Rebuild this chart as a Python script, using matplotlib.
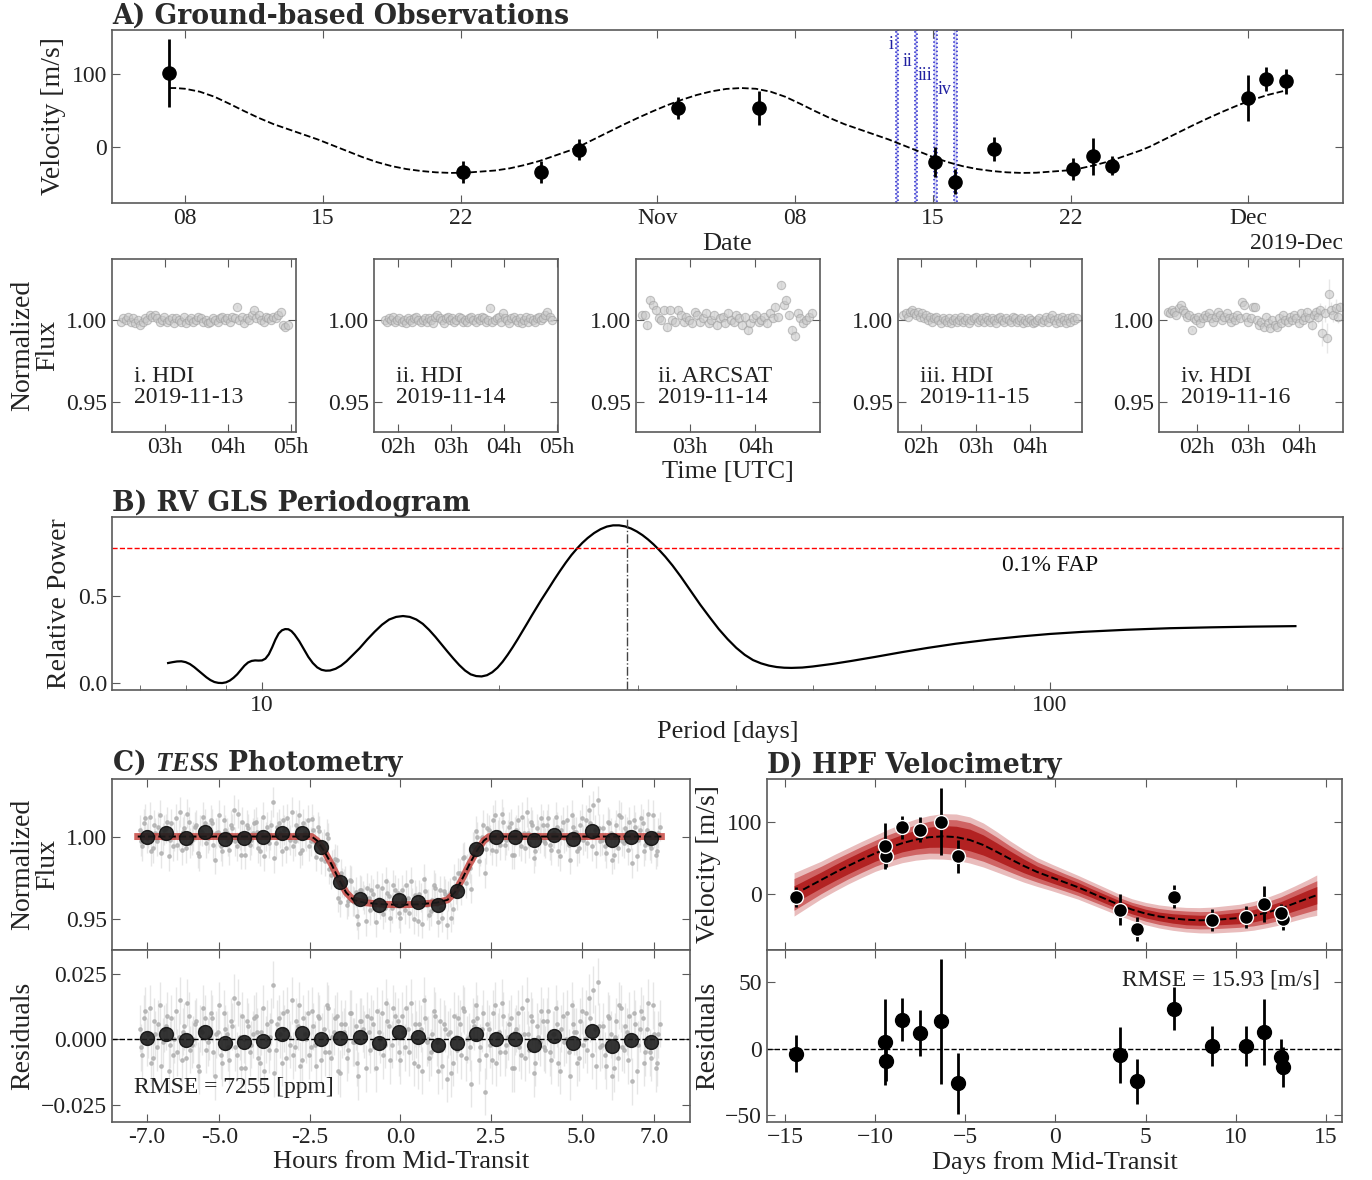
import numpy as np
import pandas as pd
import matplotlib
matplotlib.use("Agg")
import matplotlib.pyplot as plt
import matplotlib.dates as mdates
from matplotlib.ticker import FuncFormatter, NullFormatter

plt.rcParams["font.family"] = ["Liberation Serif", "DejaVu Serif"]
plt.rcParams["mathtext.fontset"] = "custom"
plt.rcParams["mathtext.rm"] = "Liberation Serif"
plt.rcParams["mathtext.it"] = "Liberation Serif:italic:bold"
plt.rcParams["axes.edgecolor"] = "#5a5a5a"
plt.rcParams["axes.linewidth"] = 1.2
plt.rcParams["xtick.direction"] = "in"
plt.rcParams["ytick.direction"] = "in"
plt.rcParams["xtick.top"] = True
plt.rcParams["ytick.right"] = True
plt.rcParams["xtick.major.size"] = 6
plt.rcParams["ytick.major.size"] = 6
plt.rcParams["xtick.minor.size"] = 3.5
plt.rcParams["xtick.color"] = "#5a5a5a"
plt.rcParams["ytick.color"] = "#5a5a5a"
plt.rcParams["xtick.labelcolor"] = "#222222"
plt.rcParams["ytick.labelcolor"] = "#222222"
plt.rcParams["xtick.labelsize"] = 17
plt.rcParams["ytick.labelsize"] = 17
plt.rcParams["axes.labelsize"] = 19
plt.rcParams["axes.labelcolor"] = "#222222"

TITLE = dict(family="DejaVu Serif", weight="bold", size=19.2, color="#2a2a2a")
YLAB = 20
NOTE = 17

# ---------------- A) ground-based RVs ----------------
rv_dates = ["2019-10-07 05:00", "2019-10-22 02:30", "2019-10-26 01:30", "2019-10-28 00:00",
            "2019-11-02 00:30", "2019-11-06 03:30", "2019-11-15 02:30", "2019-11-16 02:30",
            "2019-11-18 02:30", "2019-11-22 02:30", "2019-11-23 02:30", "2019-11-24 02:00",
            "2019-12-01 00:30", "2019-12-01 22:30", "2019-12-02 22:00"]
rv_vel = [101, -35, -34, -4, 53, 53, -21, -48, -3, -31, -13, -26, 67, 93, 90]
rv_err = [47, 15, 15, 14, 15, 23, 21, 17, 16, 15, 25, 13, 32, 16, 17]
rv_phase = [-6.34, 8.67, 12.60, -14.41, -9.40, -5.42, 3.57, 4.55, 6.58, 10.55,
            11.57, 12.53, -9.47, -8.51, -7.49]
rv_resid = [20.5, 1.7, -13.7, -3.7, -9.5, -26.0, -5.0, -24.5, 30.0, 1.7,
            12.5, -6.0, 5.0, 21.7, 11.7]

# best-fit model along the observing season, days after 2019-10-08
ref_date = pd.Timestamp("2019-10-08")
modelA_day = [-0.79, -0.5, 0.0, 0.75, 1.5, 2.25, 3.0, 3.75, 4.5, 5.25, 6.0, 6.75, 7.5, 8.25,
              9.0, 9.75, 10.5, 11.25, 12.0, 12.75, 13.5, 14.25, 15.0, 15.75, 16.5, 17.25,
              18.0, 18.75, 19.5, 20.0, 20.75, 21.5, 22.25, 23.0, 23.75, 24.5, 25.25, 26.0,
              26.75, 27.5, 28.25, 29.0, 29.75, 30.5, 31.25, 32.0, 32.75, 33.5, 34.25, 35.0,
              35.75, 36.5, 37.25, 38.0, 38.75, 39.5, 40.25, 41.0, 41.75, 42.5, 43.25, 44.0,
              44.75, 45.5, 46.25, 47.0, 47.75, 48.5, 49.0, 49.75, 50.5, 51.25, 52.0, 52.75,
              53.5, 54.25, 55.0, 55.75, 55.9]
modelA_vel = [80.5, 80.5, 79.5, 75.5, 68.5, 59, 49, 39.5, 31, 24, 17, 10, 2, -6,
              -14, -21, -26.5, -30.5, -33.2, -35, -35.8, -35.5, -34, -32.5, -29.5, -25,
              -19.5, -12.5, -5.5, 0, 10, 20, 30, 39.5, 48.5, 57, 64.5, 71,
              76, 79.3, 80.5, 79.5, 75.5, 68.5, 59, 49, 39.5, 31, 24, 17,
              10, 2, -6, -14, -21, -26.5, -30.5, -33.2, -35, -35.8, -35.5, -34,
              -32.5, -29.5, -25, -19.5, -12.5, -5.5, 0, 10, 20, 30, 39.5, 48.5,
              57, 64.5, 71, 76, 77]

# transit windows observed from the ground (UT)
win_dates = ["2019-11-13", "2019-11-14", "2019-11-15", "2019-11-16"]
win_start_h = [2.3, 1.75, 1.68, 1.42]
win_end_h = [4.95, 4.9, 4.85, 4.8]
win_labels = ["i", "ii", "iii", "iv"]
win_label_v = [140, 117, 98, 78]

# ---------------- ground-based light curves (ppt from 1.0) ----------------
night_labels = ["i. HDI\n2019-11-13", "ii. HDI\n2019-11-14", "ii. ARCSAT\n2019-11-14",
                "iii. HDI\n2019-11-15", "iv. HDI\n2019-11-16"]
night_start_h = [2.30, 1.75, 2.26, 1.68, 1.42]
night_end_h = [4.95, 4.90, 4.86, 4.85, 4.80]
night1 = [-1, 1, 0, 2, -1, 1, -2, 0, -3, -1,
          1, 0, 3, 2, 3, 1, -1, 0, 2, -1,
          0, 1, -2, 1, 0, -1, 2, -2, 0, 1,
          -1, 0, 2, 1, -1, 0, -2, -1, 1, 0,
          -1, 1, 2, 0, 1, -1, 2, 1, 8, 0,
          2, -2, 1, 0, 3, 6, 1, 3, 0, -1,
          2, 1, 0, 2, 1, 3, 5, -3, -4, -3]
night2 = [0, -1, 1, 0, 2, -1, 0, 1, -1, 0,
          -2, 1, 0, -1, 1, 2, 0, -1, 0, 1,
          -1, 1, 0, -2, 2, 3, 1, 0, -2, 1,
          2, 0, 1, -1, 0, 2, 1, -1, 0, -1,
          1, 2, 0, -1, 1, 0, 2, 1, -1, 0,
          7, -1, 0, 1, 2, -1, 4, 1, 0, -2,
          1, 2, 0, -1, 1, -2, 0, 2, -1, 1,
          0, -1, 1, 2, 0, 1, 3, 5, 2, 0]
night3 = [3, 3, -3, 12, 9, 6, 1, 0, 6, -4,
          6, 0, -1, 6, 3, -1, 2, 0, -2, 5,
          3, -1, 1, 4, -2, 0, 3, -3, 1, 2,
          -2, 4, 0, -1, 3, 1, -3, 2, -6, -2,
          1, 3, -1, 0, 2, -2, 4, 1, 8, 2,
          21, 9, 12, 3, -6, -10, 4, 1, -2, 0,
          2, 4]
night4 = [3, 4, 2, 5, 6, 4, 3, 5, 2, 4,
          1, 3, 0, 2, -1, 1, 2, 0, -2, 1,
          0, -1, 1, -2, 0, 1, -1, 0, 2, -1,
          0, 1, -2, 0, 1, 2, -1, 0, 1, -1,
          2, 0, -1, 1, 0, -2, 1, 2, 0, -1,
          1, 0, -1, 2, 1, -1, 0, 1, -2, 0,
          -1, 1, 0, -2, -1, 0, 1, -1, 0, 2,
          -1, 1, 3, 0, -2, 1, -1, 2, 0, -2,
          1, -1, 2, 0, 1]
night5 = [5, 4, 6, 5, 3, 7, 9, 6, 4, 2,
          3, -6, 1, 0, 2, -2, 1, 3, 2, 4,
          1, -1, 2, 5, 3, 0, 2, 4, 1, -1,
          2, 0, 3, 1, 11, 9, 2, -1, 1, 8,
          8, 0, -3, -1, -4, 2, -2, -5, 0, -3,
          -4, 1, -2, 3, 0, -1, 2, 0, 3, 1,
          -2, 4, 0, 2, 5, 1, -3, 3, 5, 2,
          6, -8, 4, -11, 16, 6, 3, 7, 2, 8]
night_err = [1.0, 1.0, 2.5, 1.0,
             [1.0] * 60 + [1.5, 2, 1.5, 2, 2.5, 2, 3, 2.5, 3, 4,
                           4, 8, 5, 9, 9, 5, 4, 6, 4, 3]]
night_flux = [night1, night2, night3, night4, night5]

# ---------------- B) GLS periodogram ----------------
gls_period = [7.60, 7.70, 7.80, 7.90, 8.00, 8.10, 8.20, 8.30, 8.40, 8.50, 8.60, 8.70, 8.80,
              8.90, 9.00, 9.10, 9.20, 9.30, 9.40, 9.50, 9.60, 9.70, 9.80, 9.90, 10.0, 10.1,
              10.2, 10.3, 10.4, 10.5, 10.6, 10.7, 10.8, 10.9, 11.0, 11.15, 11.3, 11.45, 11.6,
              11.75, 11.9, 12.05, 12.2, 12.4, 12.6, 12.8, 13.0, 13.3, 13.6, 13.9, 14.2, 14.5,
              14.8, 15.1, 15.4, 15.7, 16.0, 16.3, 16.6, 16.9, 17.2, 17.5, 17.8, 18.1, 18.4,
              18.7, 19.0, 19.3, 19.6, 19.9, 20.2, 20.5, 20.8, 21.1, 21.4, 21.7, 22.0, 22.3,
              22.6, 22.9, 23.2, 23.5, 23.9, 24.3, 24.7, 25.1, 25.5, 25.9, 26.4, 26.9, 27.4,
              27.9, 28.4, 28.9, 29.4, 29.9, 30.4, 30.9, 31.4, 31.9, 32.5, 33.2, 34.0, 35.0,
              36.0, 37.0, 38.0, 39.0, 40.0, 41.0, 42.0, 43.0, 44.0, 45.0, 46.0, 47.0, 48.5,
              50.0, 53.0, 56.0, 60.0, 65.0, 70.0, 76.0, 84.0, 92.0, 100.0, 110.0, 125.0,
              142.0, 160.0, 180.0, 205.0]
gls_power = [0.115, 0.120, 0.124, 0.125, 0.120, 0.109, 0.092, 0.072, 0.052, 0.033, 0.017,
             0.006, 0.001, 0.0, 0.004, 0.014, 0.030, 0.050, 0.075, 0.100, 0.118, 0.127,
             0.130, 0.129, 0.130, 0.140, 0.165, 0.205, 0.250, 0.285, 0.303, 0.310, 0.309,
             0.298, 0.278, 0.240, 0.195, 0.150, 0.115, 0.090, 0.076, 0.071, 0.072, 0.082,
             0.100, 0.125, 0.155, 0.200, 0.250, 0.295, 0.335, 0.365, 0.380, 0.385, 0.380,
             0.365, 0.340, 0.305, 0.265, 0.222, 0.180, 0.140, 0.103, 0.072, 0.050, 0.040,
             0.038, 0.045, 0.062, 0.088, 0.122, 0.162, 0.205, 0.250, 0.296, 0.342, 0.388,
             0.432, 0.475, 0.515, 0.555, 0.595, 0.645, 0.692, 0.735, 0.772, 0.805, 0.833,
             0.862, 0.884, 0.899, 0.906, 0.906, 0.900, 0.888, 0.871, 0.850, 0.825, 0.797,
             0.766, 0.726, 0.675, 0.612, 0.530, 0.450, 0.378, 0.310, 0.252, 0.202, 0.162,
             0.132, 0.113, 0.100, 0.092, 0.088, 0.087, 0.089, 0.095, 0.110, 0.127, 0.150,
             0.178, 0.202, 0.226, 0.250, 0.268, 0.282, 0.294, 0.306, 0.315, 0.320, 0.324,
             0.327]
fap_level = 0.776
best_period = 29.05

# ---------------- C) TESS photometry ----------------
tess_start = -7.2     # hours
tess_cadence = 0.08   # hours
tess_resid_a = [
    4, -6, 11, 2, -9, 7, -3, 13, -1, 5, -12, 8, 0, -5, 15, 3, -7, 9, -2, 6,
    -10, 4, 12, -4, 1, 8, -14, 3, -6, 10, 2, -8, 5, -3, 14, -11, 0, 7, -5, 2,
    9, -7, 3, -12, 6, 1, 21, -4, 8, -9, 4, 11, -2, -6, 7, 13, -8, 2, 10, -3,
    5, -10, 8, 1, -5, 12, -7, 3, 9, -13, 2, 6, -4, 10, -1, -9, 7, 4, -11, 3,
    8, -3, 11, 0, -6, 14, 5, -2, 9, 7, -8, 3, 12, -5, 1, 6, -10, 4, 15, -1,
    -7, 2, 9, -12, -4, 6, -15, 3, -9, 1, 8, -6, 11, 0, -3, 7, 13, -8, 4, -20,
    6, -2, 10, -9, 3, 14, -5, 1, 8, -11, 4, -3, 12, -7, 2, 9, -13, 5, -1, 7,
    -4, 11, -8, 2, 6, -12, 9, 0, -5, 13, 3, -9, 7, -2, 10, 16, -6, 4, 22, -3,
    5, -10, 8, -14, 1, -7, 12, -4, 3, 9, -16, 6, -2, 11, -9, 4, -5, 13, -11, 2]
# second transit, sampled half a cadence later
tess_resid_b = [
    -3, 8, -1, 12, -7, 2, 6, -10, 4, 9, -2, -6, 11, 1, -8, 5, 14, -4, 0, 7,
    -12, 3, 8, -1, 10, -5, 2, 13, -9, 4, -3, 7, 16, -6, 1, 9, -11, 5, -2, 8,
    3, -9, 12, 0, -4, 7, -13, 6, 2, 10, -7, 1, 15, -3, 5, -10, 8, 0, -6, 11,
    -2, 9, -8, 4, 13, -5, 1, 8, -12, 6, 3, -7, 10, -1, 5, -14, 7, 2, 9, -4,
    6, -11, 3, 10, -2, 7, -8, 12, 1, -5, 9, -3, 4, 14, -9, 2, 6, -12, 8, 0,
    -5, 11, -1, 7, -10, 4, 2, -13, 9, -4, 6, 12, -7, 1, -17, 5, 8, -3, 10, -6,
    4, -8, 13, 1, -5, 9, -2, 6, -11, 3, 10, -6, 2, 15, -4, 7, -9, 1, 11, -3,
    7, -5, 2, 12, -9, 4, -1, 10, -14, 6, 3, -7, 11, 0, -4, 8, 19, -10, 5, -2,
    -6, 9, 2, -11, 7, 13, -3, 5, -8, 1, 10, -12, 4, 8, -5, 14, -7, 2, -9, 6]
tess_err_ppt = 9
tess_model_t = [-7.25, -2.45, -2.3, -2.1, -1.9, -1.7, -1.5, -1.3, -1.0, -0.5, 0.0,
                0.5, 1.0, 1.3, 1.5, 1.7, 1.9, 2.1, 2.3, 2.45, 7.2]
tess_model_f = [1.0, 1.0, 0.9975, 0.991, 0.983, 0.974, 0.966, 0.9615, 0.9598, 0.9588, 0.9585,
                0.9588, 0.9598, 0.9615, 0.966, 0.974, 0.983, 0.991, 0.9975, 1.0, 1.0]
tess_bin_t = [-7.0, -6.46, -5.92, -5.38, -4.85, -4.32, -3.78, -3.26, -2.72, -2.18, -1.66,
              -1.12, -0.58, -0.04, 0.49, 1.03, 1.55, 2.09, 2.63, 3.16, 3.69, 4.23, 4.76,
              5.29, 5.83, 6.36, 6.91]
tess_bin_f = [1.000, 1.002, 0.9994, 1.003, 0.9988, 0.999, 0.9996, 1.002, 1.0024, 0.9939,
              0.9724, 0.9618, 0.9583, 0.9614, 0.960, 0.9583, 0.967, 0.9927, 1.000, 1.000,
              0.998, 1.001, 0.9988, 1.0035, 0.9978, 1.000, 0.9994]
tess_bin_r = [0.0004, 0.002, -0.0003, 0.003, -0.0015, -0.001, -0.0006, 0.002, 0.0023, 0.0003,
              0.0005, 0.001, -0.0015, 0.0028, 0.001, -0.0022, -0.0012, 0.002, 0.0001, 0.0001,
              -0.002, 0.0014, -0.0012, 0.0033, -0.0024, -0.0003, -0.0009]

# ---------------- D) HPF RV model vs phase ----------------
hpf_t = [-14.5, -13.75, -13.0, -12.25, -11.5, -10.75, -10.0, -9.25, -8.5, -7.75, -7.0, -6.25,
         -5.5, -4.75, -4.0, -3.25, -2.5, -1.75, -1.0, -0.25, 0.5, 1.25, 2.0, 2.75, 3.5, 4.25,
         5.0, 5.75, 6.5, 7.25, 8.0, 8.75, 9.5, 10.25, 11.0, 11.75, 12.5, 13.25, 14.0, 14.5]
hpf_v = [0, 10, 20, 30, 39.5, 48.5, 57, 64.5, 71, 76, 79.3, 80.5,
         79.5, 75.5, 68.5, 59, 49, 39.5, 31, 24, 17, 10, 2, -6, -14, -21,
         -26.5, -30.5, -33.2, -35, -35.8, -35.5, -34, -32.5, -29.5, -25, -19.5, -12.5, -5.5, -1]
band1 = [12, 11.5, 11, 11, 11, 11, 11, 11.5, 12, 13, 14, 15,
         15, 15, 14, 12.5, 11, 9.5, 8, 7.5, 7, 6.5, 6, 6, 6, 6,
         6, 6, 6.5, 7, 7, 7, 7.5, 8, 8.5, 9, 9.5, 10.5, 11.5, 12]
band2 = [22, 20.5, 19, 18.5, 18, 18, 18, 18.5, 19, 20.5, 22, 23.5,
         24, 24, 22.5, 20.5, 18, 16, 14, 13, 12, 11.5, 11, 10.5, 10, 10,
         10.5, 11, 11.5, 12, 12, 12, 12.5, 13, 14, 15, 16, 17.5, 19, 20]
band3 = [30, 28, 26, 25.5, 25, 25, 25, 26, 27, 28.5, 30, 31.5,
         32, 32, 30.5, 28, 25, 22.5, 20, 18.5, 17.5, 16.5, 16, 15.5, 15, 15,
         15.5, 16, 16.5, 17, 17.5, 18, 18.5, 19, 20, 21, 22.5, 24, 26, 28]


def frac(x0, y0, x1, y1):
    return [x0 / 1372, 1 - y1 / 1180, (x1 - x0) / 1372, (y1 - y0) / 1180]


def minus(fmt):
    return FuncFormatter(lambda v, p: (fmt % v).replace("-", "\u2212"))


fig = plt.figure(figsize=(13.72, 11.8), dpi=100)

# ---- panel A
axA = fig.add_axes(frac(112, 30, 1343, 203))
dates = pd.to_datetime(rv_dates)
mdays = ref_date + pd.to_timedelta(modelA_day, unit="D")
axA.plot(mdays, modelA_vel, color="k", ls="--", lw=1.3)
axA.errorbar(dates, rv_vel, yerr=rv_err, fmt="o", color="k", ms=9.5, elinewidth=2, capsize=0)
for d, h0, h1, lab, yv in zip(win_dates, win_start_h, win_end_h, win_labels, win_label_v):
    t0 = pd.Timestamp(d) + pd.Timedelta(hours=h0)
    t1 = pd.Timestamp(d) + pd.Timedelta(hours=h1)
    axA.axvspan(t0, t1, facecolor="#d0d0f4", edgecolor="#2222cc", ls=":", lw=1.1)
    axA.text(t0 - pd.Timedelta(hours=2.5), yv, lab, color="#2020a0", fontsize=13,
             ha="right", va="center")
axA.set_xlim(ref_date + pd.Timedelta(days=-3.71), ref_date + pd.Timedelta(days=58.83))
axA.set_ylim(-77, 160)
axA.set_yticks([0, 100])
loc = mdates.DayLocator(bymonthday=[1, 8, 15, 22])
axA.xaxis.set_major_locator(loc)
axA.xaxis.set_major_formatter(mdates.ConciseDateFormatter(loc))
axA.xaxis.get_offset_text().set_fontsize(17)
axA.set_xlabel("Date", labelpad=3)
axA.set_ylabel("Velocity [m/s]", fontsize=YLAB)
axA.set_title("A) Ground-based Observations", loc="left", pad=4, fontdict=TITLE)

# ---- ground-based light curves
small_left = [112, 374, 636, 898, 1159]
small_xlim = [(2.16, 5.08), (1.55, 5.02), (2.17, 4.99), (1.58, 4.95), (1.25, 4.86)]
small_ticks = [[3, 4, 5], [2, 3, 4, 5], [3, 4], [2, 3, 4], [2, 3, 4]]
for k in range(5):
    ax = fig.add_axes(frac(small_left[k], 259, small_left[k] + 184, 432))
    vals = np.array(night_flux[k], dtype=float)
    tt = np.linspace(night_start_h[k], night_end_h[k], len(vals))
    ee = np.array(night_err[k], dtype=float) / 1000.0
    ax.errorbar(tt, 1 + vals / 1000.0, yerr=ee * np.ones_like(vals), fmt="o", ms=6,
                mfc="#c8c8c8", mec="#a0a0a0", mew=0.8, ecolor="#d8d8d8", elinewidth=1,
                alpha=0.6, capsize=0)
    ax.set_xlim(*small_xlim[k])
    ax.set_ylim(0.932, 1.037)
    ax.set_yticks([0.95, 1.00])
    ax.yaxis.set_major_formatter(FuncFormatter(lambda v, p: "%.2f" % v))
    ax.set_xticks(small_ticks[k])
    ax.set_xticklabels(["%02dh" % h for h in small_ticks[k]])
    ax.text(0.12, 0.26, night_labels[k], transform=ax.transAxes, fontsize=NOTE,
            ha="left", va="center", color="#222222", linespacing=1.05)
    if k == 0:
        ax.set_ylabel("Normalized\nFlux", linespacing=1.0, fontsize=YLAB)
    if k == 2:
        ax.set_xlabel("Time [UTC]", labelpad=2)

# ---- panel B
axB = fig.add_axes(frac(112, 517, 1343, 690))
axB.plot(gls_period, gls_power, color="k", lw=1.6)
axB.axhline(fap_level, color="red", ls="--", lw=1)
axB.axvline(best_period, color="#444444", ls="-.", lw=1)
axB.text(100, 0.678, "0.1% FAP", fontsize=NOTE, ha="center", va="center", color="#111111")
axB.set_xscale("log")
axB.set_xlim(6.45, 235.6)
axB.set_ylim(-0.04, 0.954)
axB.set_yticks([0.0, 0.5])
axB.yaxis.set_major_formatter(FuncFormatter(lambda v, p: "%.1f" % v))
axB.xaxis.set_major_formatter(FuncFormatter(lambda v, p: "%g" % v))
axB.xaxis.set_minor_formatter(NullFormatter())
axB.tick_params(which="both", top=False, right=False)
axB.set_xlabel("Period [days]")
axB.set_ylabel("Relative Power", fontsize=YLAB)
axB.set_title("B) RV GLS Periodogram", loc="left", pad=4, fontdict=TITLE)

# ---- panel C
ta = tess_start + tess_cadence * np.arange(len(tess_resid_a))
tb = ta + tess_cadence / 2
tess_t = np.concatenate([ta, tb])
tess_r = np.array(tess_resid_a + tess_resid_b) / 1000.0
tess_f = np.interp(tess_t, tess_model_t, tess_model_f) + tess_r
c_ticks = [-7.0, -5.0, -2.5, 0.0, 2.5, 5.0, 7.0]
raw_style = dict(fmt="o", ms=2.4, color="#b0b0b0", ecolor="#e0e0e0", elinewidth=1,
                 alpha=0.8, capsize=0, zorder=1)
bin_style = dict(ms=10, color="#1e1e1e", mec="#111111", alpha=0.9, zorder=4)

axC = fig.add_axes(frac(112, 779, 690, 950))
axC.errorbar(tess_t, tess_f, yerr=tess_err_ppt / 1000.0, **raw_style)
axC.plot(tess_model_t, tess_model_f, color="#c0302a", lw=5, alpha=0.75, zorder=2)
axC.plot(tess_model_t, tess_model_f, color="k", ls="--", lw=1.4, zorder=3)
axC.plot(tess_bin_t, tess_bin_f, "o", **bin_style)
axC.set_xlim(-7.96, 7.99)
axC.set_ylim(0.931, 1.035)
axC.set_yticks([0.95, 1.00])
axC.yaxis.set_major_formatter(FuncFormatter(lambda v, p: "%.2f" % v))
axC.set_xticks(c_ticks)
axC.xaxis.set_major_formatter(NullFormatter())
axC.set_ylabel("Normalized\nFlux", linespacing=1.0, fontsize=YLAB)
axC.set_title(r"C) $\mathit{TESS}$ Photometry", loc="left", pad=4, fontdict=TITLE)

axCr = fig.add_axes(frac(112, 950, 690, 1122))
axCr.errorbar(tess_t, tess_r, yerr=tess_err_ppt / 1000.0, **raw_style)
axCr.axhline(0, color="k", ls="--", lw=1, zorder=2)
axCr.plot(tess_bin_t, tess_bin_r, "o", **bin_style)
axCr.set_xlim(-7.96, 7.99)
axCr.set_ylim(-0.0316, 0.0342)
axCr.set_yticks([-0.025, 0.0, 0.025])
axCr.yaxis.set_major_formatter(minus("%.3f"))
axCr.set_xticks(c_ticks)
axCr.set_xticklabels(["%.1f" % v for v in c_ticks])
axCr.text(0.038, 0.2, "RMSE = 7255 [ppm]", transform=axCr.transAxes, fontsize=NOTE,
          ha="left", va="center", color="#222222")
axCr.set_xlabel("Hours from Mid-Transit", labelpad=2)
axCr.set_ylabel("Residuals", fontsize=YLAB)

# ---- panel D
axD = fig.add_axes(frac(767, 779, 1342, 950))
hv = np.array(hpf_v)
for bw, col in zip([band3, band2, band1], ["#e9bcbc", "#cf6464", "#b22222"]):
    axD.fill_between(hpf_t, hv - np.array(bw), hv + np.array(bw), color=col, lw=0)
axD.plot(hpf_t, hpf_v, color="k", ls="--", lw=1.4)
axD.errorbar(rv_phase, rv_vel, yerr=rv_err, fmt="o", color="k", ms=10, mec="white", mew=1,
             elinewidth=2, capsize=0)
axD.set_xlim(-16, 15.9)
axD.set_ylim(-77, 160)
axD.set_yticks([0, 100])
axD.set_xticks([-15, -10, -5, 0, 5, 10, 15])
axD.xaxis.set_major_formatter(NullFormatter())
axD.set_ylabel("Velocity [m/s]", fontsize=YLAB)
axD.set_title("D) HPF Velocimetry", loc="left", pad=4, fontdict=TITLE)

axDr = fig.add_axes(frac(767, 950, 1342, 1122))
axDr.axhline(0, color="k", ls="--", lw=1)
axDr.errorbar(rv_phase, rv_resid, yerr=rv_err, fmt="o", color="k", ms=10, elinewidth=2,
              capsize=0)
axDr.set_xlim(-16, 15.9)
axDr.set_ylim(-55, 74)
axDr.set_yticks([-50, 0, 50])
axDr.set_xticks([-15, -10, -5, 0, 5, 10, 15])
axDr.text(0.962, 0.826, "RMSE = 15.93 [m/s]", transform=axDr.transAxes, fontsize=NOTE,
          ha="right", va="center", color="#222222")
axDr.set_xlabel("Days from Mid-Transit", labelpad=2)
axDr.set_ylabel("Residuals", fontsize=YLAB)

fig.savefig("out.png", dpi=100)
